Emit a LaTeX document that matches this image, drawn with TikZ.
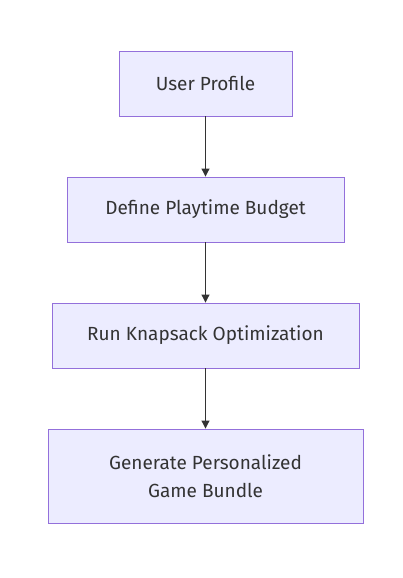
\documentclass[tikz,border=0pt]{standalone}
\usepackage{fontspec}
\setmainfont{Fira Sans}
\usetikzlibrary{arrows.meta, positioning}

\definecolor{boxfill}{HTML}{ECECFF}
\definecolor{boxline}{HTML}{9370DB}
\definecolor{edgeline}{HTML}{333333}
\definecolor{labeltext}{HTML}{333333}

\tikzset{
  stepbox/.style={draw=boxline, fill=boxfill, line width=0.9pt, inner sep=0pt,
    text=labeltext, font=\fontsize{19}{28}\selectfont, align=center},
  flow/.style={draw=edgeline, line width=1pt, -{Triangle[length=8pt, width=8pt]}}
}

\begin{document}
\begin{tikzpicture}[x=1pt, y=-1pt]
            \useasboundingbox (0, 0) rectangle (403, 578);

            % Steps
            \node[stepbox, minimum width=173pt, minimum height=65pt] (profile) at (205.5, 83.5) {User Profile};
            \node[stepbox, minimum width=277pt, minimum height=65pt] (budget) at (205.5, 209.5) {Define Playtime Budget};
            \node[stepbox, minimum width=307pt, minimum height=65pt] (knapsack) at (205.5, 335.5) {Run Knapsack Optimization};
            \node[stepbox, minimum width=315pt, minimum height=94pt] (bundle) at (205.5, 476) {Generate Personalized\\ Game Bundle};

            % Edges
            \draw[flow] (profile) -- (budget);
            \draw[flow] (budget) -- (knapsack);
            \draw[flow] (knapsack) -- (bundle);
        \end{tikzpicture}
\end{document}
